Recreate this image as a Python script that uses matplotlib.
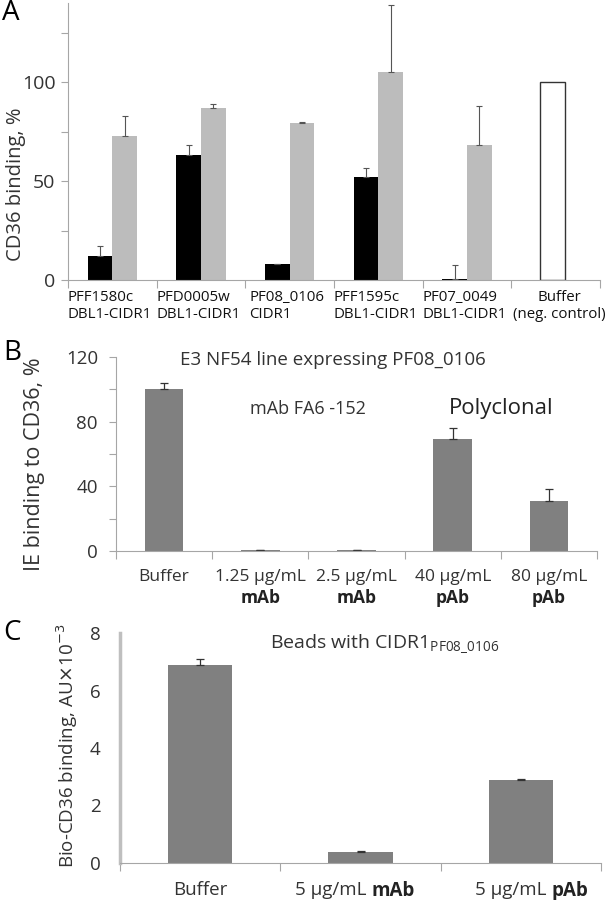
import matplotlib.pyplot as plt
import numpy as np

plt.rcParams['font.family'] = ['Open Sans', 'DejaVu Sans']

# panel A
a_labels = ['PFF1580c\nDBL1-CIDR1', 'PFD0005w\nDBL1-CIDR1', 'PF08_0106\nCIDR1',
            'PFF1595c\nDBL1-CIDR1', 'PF07_0049\nDBL1-CIDR1', 'Buffer\n(neg. control)']
a_black = [12, 63, 8, 52, 0.5]
a_black_err = [5, 5, 0.3, 4.5, 7]
a_gray = [73, 87, 79.5, 105, 68]
a_gray_err = [10, 2, 0.3, 34, 20]
a_buffer = 100

# panel B
b_labels = ['Buffer', '1.25 µg/mL', '2.5 µg/mL', '40 µg/mL', '80 µg/mL']
b_bold = ['', 'mAb', 'mAb', 'pAb', 'pAb']
b_vals = [100, 0.4, 0.4, 69, 31]
b_err = [4, 0.5, 0.5, 7, 7.5]

# panel C
c_labels = ['Buffer', '5 µg/mL', '5 µg/mL']
c_bold = ['', 'mAb', 'pAb']
c_vals = [6.88, 0.38, 2.88]
c_err = [0.2, 0.03, 0.04]

fig = plt.figure(figsize=(6.07, 9), dpi=100)
W, H = 607, 900
TXT = '#333333'


def axes_px(x0, y0, x1, y1):
    return fig.add_axes([x0 / W, 1 - y1 / H, (x1 - x0) / W, (y1 - y0) / H])


def ylab(s, right, ymid, size):
    # rotated label, placed by its right edge in pixels
    fig.text(right / W, 1 - ymid / H, s, rotation=90, ha='right', va='center',
             fontsize=size, color=TXT)


def style(ax, ycol='#a6a6a6', ylw=0.8, ylen=5, ypad=3):
    for s in ['top', 'right']:
        ax.spines[s].set_visible(False)
    ax.spines['left'].set_color(ycol)
    ax.spines['left'].set_linewidth(ylw)
    ax.spines['bottom'].set_color('#a6a6a6')
    ax.spines['bottom'].set_linewidth(0.8)
    ax.tick_params(axis='x', colors='#a6a6a6', length=6, width=0.8)
    ax.tick_params(axis='y', colors='#a6a6a6', labelcolor=TXT, length=ylen, width=0.8, pad=ypad)


# ---------- A ----------
ax = axes_px(68, 3, 600, 280)
n = len(a_labels)
x = np.arange(n)
xb = x[:5] - 0.14
xg = x[:5] + 0.14
ekw = dict(ecolor='#555555', elinewidth=0.8, capsize=2, capthick=0.8)
ax.bar(xb, a_black, 0.28, color='black', yerr=[np.zeros(5), a_black_err], error_kw=ekw)
ax.bar(xg, a_gray, 0.28, color='#bcbcbc', yerr=[np.zeros(5), a_gray_err], error_kw=ekw)
ax.bar(x[5] - 0.04, a_buffer, 0.28, color='white', edgecolor='#333333', linewidth=1)
ax.set_xlim(-0.5, n - 0.5)
ax.set_ylim(0, 140)
ax.set_yticks(np.arange(0, 141, 25))
ax.set_yticklabels(['0', '', '50', '', '100', ''], fontsize=14)
ax.set_xticks(np.arange(-0.5, n, 1.0))
ax.set_xticklabels([])
for xi, lab in zip(x, a_labels):
    ma = 'center' if xi == n - 1 else 'left'
    xo = xi + 0.04 if xi == n - 1 else xi - 0.03
    ax.text(xo, -5, lab, ha='center', va='top', fontsize=10.8, color='#111111',
            linespacing=1.15, multialignment=ma)
style(ax, ypad=4)
ylab('CD36 binding, %', 26, 184, 14.5)
fig.text(2 / W, 1 - 13 / H, 'A', fontsize=20, va='center', ha='left')

# ---------- B ----------
ax = axes_px(116, 357, 597, 551)
x = np.arange(len(b_vals))
ekw = dict(ecolor='#333333', elinewidth=0.9, capsize=3, capthick=0.9)
ax.bar(x, b_vals, 0.4, color='#808080', yerr=[np.zeros(len(b_vals)), b_err], error_kw=ekw)
ax.set_xlim(-0.5, len(b_vals) - 0.5)
ax.set_ylim(0, 120)
ax.set_yticks(np.arange(0, 121, 20))
ax.set_yticklabels(['0', '', '40', '', '80', '', '120'], fontsize=13.5)
ax.set_xticks(np.arange(-0.5, len(b_vals), 1.0))
ax.set_xticklabels([])
for xi, lab, bl in zip(x, b_labels, b_bold):
    ax.text(xi, -11, lab, ha='center', va='top', fontsize=12.5, color=TXT)
    ax.text(xi, -23.5, bl, ha='center', va='top', fontsize=12.5, color='#222222', fontweight='bold')
style(ax, ypad=8)
ylab('IE binding to CD36, %', 45, 464, 15.5)
ax.text(0.45, 0.985, 'E3 NF54 line expressing PF08_0106', transform=ax.transAxes,
        ha='center', va='center', fontsize=13.5, color=TXT)
ax.text(1.5, 88, 'mAb FA6 -152', ha='center', va='center', fontsize=13, color=TXT)
ax.text(3.5, 88, 'Polyclonal', ha='center', va='center', fontsize=16, color='#222222')
fig.text(3 / W, 1 - 353 / H, 'B', fontsize=20, va='center', ha='left')

# ---------- C ----------
ax = axes_px(120, 633, 601, 863)
x = np.arange(len(c_vals))
ax.bar(x, c_vals, 0.4, color='#808080', yerr=[np.zeros(len(c_vals)), c_err], error_kw=ekw)
ax.set_xlim(-0.5, len(c_vals) - 0.5)
ax.set_ylim(0, 8)
ax.set_yticks(np.arange(0, 9, 2))
ax.set_yticklabels([str(v) for v in range(0, 9, 2)], fontsize=13.5)
ax.set_xticks(np.arange(-0.5, len(c_vals), 1.0))
ax.set_xticklabels([])
offs = [0, 8, 22]
for xi, lab, bl, o in zip(x, c_labels, c_bold, offs):
    if bl:
        ax.annotate(lab + ' ', (xi, 0), xytext=(o, -13), textcoords='offset points',
                    ha='right', va='top', fontsize=13.5, color=TXT)
        ax.annotate(bl, (xi, 0), xytext=(o, -13), textcoords='offset points',
                    ha='left', va='top', fontsize=13.5, color='#222222', fontweight='bold')
    else:
        ax.annotate(lab, (xi, 0), xytext=(0, -13), textcoords='offset points',
                    ha='center', va='top', fontsize=13.5, color=TXT)
style(ax, ycol='#bfbfbf', ylw=2.5, ylen=0, ypad=14)
ylab(r'Bio-CD36 binding, AU$\times$10$^{-3}$', 80, 746, 13.5)
ax.text(0.55, 0.955, r'Beads with CIDR1$_{\mathregular{PF08\_0106}}$', transform=ax.transAxes,
        ha='center', va='center', fontsize=14, color=TXT)
fig.text(3 / W, 1 - 633 / H, 'C', fontsize=20, va='center', ha='left')

fig.savefig('out.png', dpi=100)
